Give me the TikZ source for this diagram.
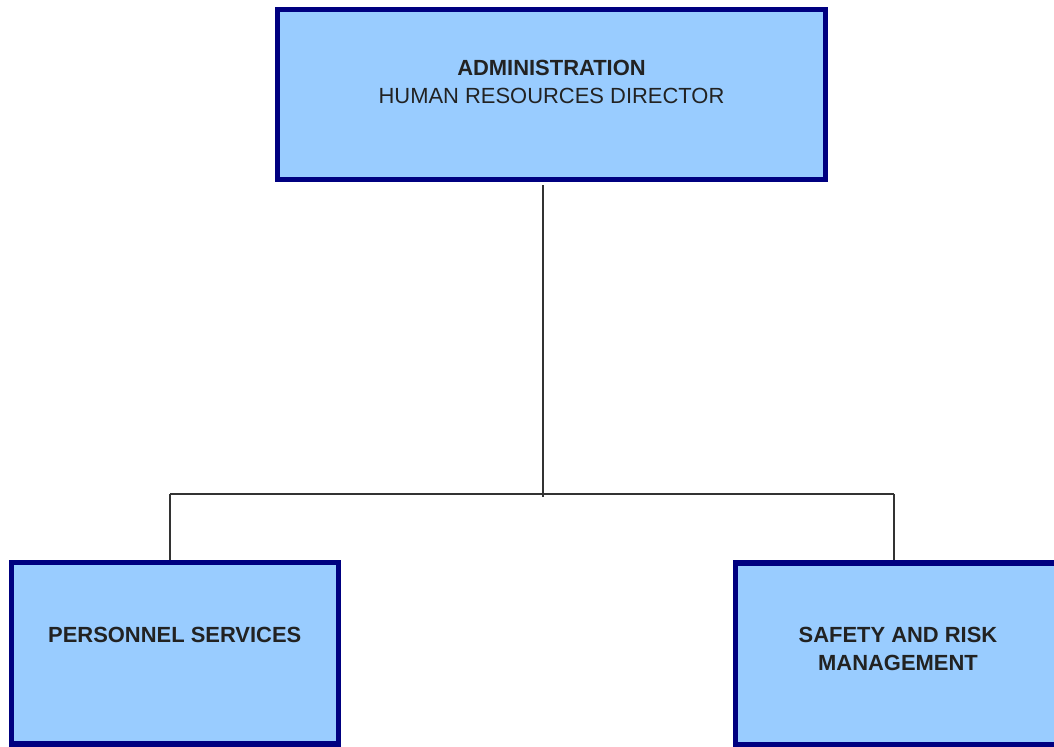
\documentclass[tikz,border=0pt]{standalone}
\usepackage{fontspec}
\setmainfont{Liberation Sans}
\usepackage{xcolor}
\usepackage{tikz}
\usetikzlibrary{positioning}

\definecolor{boxblue}{HTML}{99CCFF}
\definecolor{navyline}{HTML}{000080}
\definecolor{textgray}{HTML}{222222}
\definecolor{linegray}{HTML}{333333}

\begin{document}
\begin{tikzpicture}[
    x=0.025cm, y=-0.025cm,
    unit/.style={rectangle, draw=navyline, line width=3.6pt, fill=boxblue, inner sep=0pt},
    caption/.style={anchor=north, inner sep=0pt, align=center, text=textgray,
        font=\fontsize{15.6}{19.9}\selectfont},
    link/.style={draw=linegray, line width=1pt}
]
    \useasboundingbox (0,0) rectangle (1054,747);

    % boxes (the right one runs off the page)
    \node[unit, minimum width=13.7cm, minimum height=4.25cm] (admin) at (551.5,94.5) {};
    \node[unit, minimum width=8.1625cm, minimum height=4.5375cm] (personnel) at (174.75,653.25) {};
    \node[unit, minimum width=8.1cm, minimum height=4.5375cm] (safety) at (898,653.75) {};

    \node[caption, below=1.3125cm of admin.north] (admintext)
        {\textbf{ADMINISTRATION}\\HUMAN RESOURCES DIRECTOR};
    \node[caption, below=1.6625cm of personnel.north] (personneltext)
        {\textbf{PERSONNEL SERVICES}};
    \node[caption, below=1.65cm of safety.north] (safetytext)
        {\textbf{SAFETY AND RISK}\\\textbf{MANAGEMENT}};

    % connectors
    \coordinate (hub) at (543,497);
    \coordinate (leftend) at (170,494);
    \coordinate (rightend) at (894,494);

    \draw[link] (admin.south -| hub) ++(0,3) -- (hub);
    \draw[link] (leftend) -- (rightend);
    \draw[link] (leftend) -- (leftend |- personnel.north);
    \draw[link] (rightend) -- (rightend |- safety.north);
\end{tikzpicture}
\end{document}
